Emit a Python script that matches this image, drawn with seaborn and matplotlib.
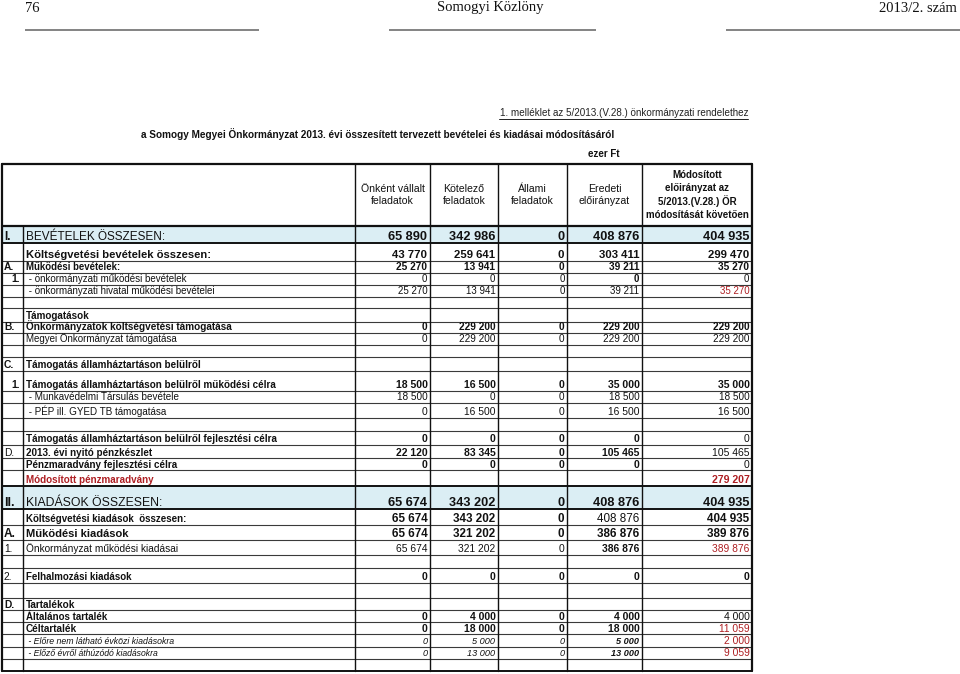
import matplotlib
matplotlib.use("Agg")
import matplotlib.pyplot as plt
import seaborn as sns

# ---------------- data ----------------
col_headers = ["Önként vállalt\nfeladatok", "Kötelező\nfeladatok", "Állami\nfeladatok",
               "Eredeti\nelőirányzat",
               "Módosított\nelőirányzat az\n5/2013.(V.28.) ÖR\nmódosítását követően"]

codes = ["I.", "", "A.", "1.", "", "", "", "B.", "", "", "C.", "1.", "", "", "", "",
         "D.", "", "", "II.", "", "A.", "1.", "", "2.", "", "D.", "", "", "", "", ""]

labels = ["BEVÉTELEK ÖSSZESEN:",
          "Költségvetési bevételek összesen:",
          "Működési bevételek:",
          " - önkormányzati működési bevételek",
          " - önkormányzati hivatal működési bevételei",
          "",
          "Támogatások",
          "Önkormányzatok költségvetési támogatása",
          "Megyei Önkormányzat támogatása",
          "",
          "Támogatás államháztartáson belülről",
          "Támogatás államháztartáson belülről működési célra",
          " - Munkavédelmi Társulás bevétele",
          " - PÉP ill. GYED TB támogatása",
          "",
          "Támogatás államháztartáson belülről fejlesztési célra",
          "2013. évi nyitó pénzkészlet",
          "Pénzmaradvány fejlesztési célra",
          "Módosított pénzmaradvány",
          "KIADÁSOK ÖSSZESEN:",
          "Költségvetési kiadások  összesen:",
          "Működési kiadások",
          "Önkormányzat működési kiadásai",
          "",
          "Felhalmozási kiadások",
          "",
          "Tartalékok",
          "Általános tartalék",
          "Céltartalék",
          " - Előre nem látható évközi kiadásokra",
          " - Előző évről áthúzódó kiadásokra",
          ""]

N = None
onkent = [65890, 43770, 25270, 0, 25270, N, N, 0, 0, N, N, 18500, 18500, 0, N, 0,
          22120, 0, N, 65674, 65674, 65674, 65674, N, 0, N, N, 0, 0, 0, 0, N]
kotelezo = [342986, 259641, 13941, 0, 13941, N, N, 229200, 229200, N, N, 16500, 0, 16500, N, 0,
            83345, 0, N, 343202, 343202, 321202, 321202, N, 0, N, N, 4000, 18000, 5000, 13000, N]
allami = [0, 0, 0, 0, 0, N, N, 0, 0, N, N, 0, 0, 0, N, 0,
          0, 0, N, 0, 0, 0, 0, N, 0, N, N, 0, 0, 0, 0, N]
eredeti = [408876, 303411, 39211, 0, 39211, N, N, 229200, 229200, N, N, 35000, 18500, 16500, N, 0,
           105465, 0, N, 408876, 408876, 386876, 386876, N, 0, N, N, 4000, 18000, 5000, 13000, N]
modositott = [404935, 299470, 35270, 0, 35270, N, N, 229200, 229200, N, N, 35000, 18500, 16500, N, 0,
              105465, 0, 279207, 404935, 404935, 389876, 389876, N, 0, N, N, 4000, 11059, 2000, 9059, N]

# ---------------- layout / styles ----------------
row_heights = [17, 18, 12, 12, 12, 11, 14, 11, 12, 12, 14, 20, 12, 15, 13, 14,
               13, 12, 16, 23, 16, 15, 15, 13, 15, 15, 12, 12, 12, 13, 12, 12]
# label: (size, bold, italic, red)
label_style = [(8.5, False, False, False), (8.1, True, False, False), (6.9, True, False, False),
               (7.0, False, False, False), (7.0, False, False, False), (7, False, False, False),
               (7.1, True, False, False), (7.2, True, False, False), (7.0, False, False, False),
               (7, False, False, False), (7.1, True, False, False), (7.1, True, False, False),
               (7.1, False, False, False), (7.15, False, False, False), (7, False, False, False),
               (7.1, True, False, False), (7.1, True, False, False), (7.1, True, False, False),
               (7.1, True, False, True), (8.8, False, False, False), (7.0, True, False, False),
               (8.0, True, False, False), (7.3, False, False, False), (7, False, False, False),
               (7.0, True, False, False), (7, False, False, False), (7.2, True, False, False),
               (7.0, True, False, False), (7.2, True, False, False), (6.35, False, True, False),
               (6.2, False, True, False), (7, False, False, False)]
# numbers: (size, bold, italic)
num_style = [(9.2, True, False), (8.2, True, False), (7.3, True, False), (7.0, False, False),
             (7.0, False, False), (7, False, False), (7, False, False), (7.3, True, False),
             (7.2, False, False), (7, False, False), (7, False, False), (7.6, True, False),
             (7.2, False, False), (7.4, False, False), (7, False, False), (7.5, True, False),
             (7.5, True, False), (7.5, True, False), (7.6, True, False), (9.2, True, False),
             (8.4, True, False), (8.4, True, False), (7.4, False, False), (7, False, False),
             (7.5, True, False), (7, False, False), (7, False, False), (7.5, True, False),
             (7.5, True, False), (6.6, False, True), (6.6, False, True), (7, False, False)]
eredeti_bold = {3, 22, 29, 30}
eredeti_normal = {20}
mod_normal = {15, 16, 17, 27, 28, 29, 30}
mod_red = {4, 18, 22, 28, 29, 30}
mod_bold_red = {18}
code_right = {3, 11}
code_bold = {0, 2, 3, 7, 10, 11, 19, 21, 26}
code_size = {0: 8.6, 19: 9.0, 21: 8.6}
blue_rows = {0, 19}

RED = "#ae1f23"
BLUE = "#dbeef4"
INK = "#111111"

# ---------------- fonts ----------------
sns.set_theme(style="white")
SANS = "Liberation Sans"
SERIF = "Liberation Serif"
plt.rcParams["font.family"] = [SANS, "DejaVu Sans"]

fig = plt.figure(figsize=(9.6, 6.74), dpi=100)
ax = fig.add_axes([0, 0, 1, 1])
ax.set_xlim(0, 960)
ax.set_ylim(674, 0)
ax.axis("off")

# ---------------- page header ----------------
ax.text(25, 8, "76", family=SERIF, fontsize=10.5, va="center", ha="left", color=INK)
ax.text(490, 8, "Somogyi Közlöny", family=SERIF, fontsize=10.5, va="center", ha="center", color=INK)
ax.text(957, 8, "2013/2. szám", family=SERIF, fontsize=10.5, va="center", ha="right", color=INK)
for x0, x1 in [(25, 259), (389, 596), (726, 960)]:
    ax.plot([x0, x1], [30, 30], color="#7a7a7a", lw=1.3, solid_capstyle="butt")

ax.text(748, 116, "1. melléklet az 5/2013.(V.28.) önkormányzati rendelethez",
        fontsize=7.15, ha="right", va="baseline", color="#222")
ax.plot([499, 748], [118.5, 118.5], color="#222", lw=0.7)
ax.text(378, 138, "a Somogy Megyei Önkormányzat 2013. évi összesített tervezett bevételei és kiadásai módosításáról",
        fontsize=7.2, fontweight="bold", ha="center", va="baseline", color=INK)
ax.text(604, 157, "ezer Ft", fontsize=7.0, fontweight="bold", ha="center", va="baseline", color=INK)

# ---------------- table geometry ----------------
col_edges = [355, 430, 498, 567, 642, 752]
LEFT, CODE_SEP = 2, 23
HEAD_TOP, HEAD_BOT = 164, 226

tops = [HEAD_BOT]
for h in row_heights:
    tops.append(tops[-1] + h)
BOTTOM = tops[-1]

for i in blue_rows:
    ax.fill_between([LEFT, col_edges[-1]], tops[i], tops[i + 1], color=BLUE, lw=0, zorder=0)

for j, txt in enumerate(col_headers):
    cx = (col_edges[j] + col_edges[j + 1]) / 2
    ax.text(cx, 195, txt, fontsize=7.0 if j == 4 else 7.6, ha="center", va="center",
            fontweight="bold" if j == 4 else "normal", linespacing=1.3 if j == 4 else 1.25,
            color=INK)

ax.plot([LEFT, col_edges[-1]], [HEAD_TOP, HEAD_TOP], color=INK, lw=1.6)
ax.plot([LEFT, col_edges[-1]], [HEAD_BOT, HEAD_BOT], color=INK, lw=1.6)
for k, y in enumerate(tops[1:]):
    thick = (k in blue_rows) or (k + 1 in blue_rows) or k == len(row_heights) - 1
    ax.plot([LEFT, col_edges[-1]], [y, y], color=INK if thick else "#3a3a3a",
            lw=1.4 if thick else 0.8)

ax.plot([LEFT, LEFT], [HEAD_TOP, BOTTOM], color=INK, lw=1.6)
ax.plot([CODE_SEP, CODE_SEP], [HEAD_BOT, BOTTOM], color=INK, lw=1.0)
for k, x in enumerate(col_edges):
    ax.plot([x, x], [HEAD_TOP, BOTTOM], color=INK, lw=1.6 if k == len(col_edges) - 1 else 1.0)

# ---------------- rows ----------------
def fmt(v):
    return f"{v:,}".replace(",", " ")

columns = [onkent, kotelezo, allami, eredeti, modositott]
for i in range(len(labels)):
    base = tops[i + 1] - (3 if row_heights[i] >= 14 else 2.5)
    if codes[i]:
        cs = code_size.get(i, 7.4)
        wt = "bold" if i in code_bold else "normal"
        if i in code_right:
            ax.text(20, base, codes[i], fontsize=cs, ha="right", va="baseline", fontweight=wt, color=INK)
        else:
            ax.text(4, base, codes[i], fontsize=cs, ha="left", va="baseline", fontweight=wt, color=INK)
    if labels[i]:
        s, b, it, red = label_style[i]
        ax.text(26, base, labels[i], fontsize=s, ha="left", va="baseline",
                fontweight="bold" if b else "normal", fontstyle="italic" if it else "normal",
                color=RED if red else INK)
    ns, nb, nit = num_style[i]
    for j, col in enumerate(columns):
        v = col[i]
        if v is None:
            continue
        bold, ital, color = nb, nit, INK
        if j == 3 and i in eredeti_bold:
            bold = True
        if j == 3 and i in eredeti_normal:
            bold = False
        if j == 4:
            if i in mod_normal:
                bold, ital = False, False
            if i in mod_red:
                color = RED
            if i in mod_bold_red:
                bold = True
        size = ns
        if j == 4 and i in {28, 29, 30}:
            size = 7.4
        ax.text(col_edges[j + 1] - 2.5, base, fmt(v), fontsize=size,
                ha="right", va="baseline", fontweight="bold" if bold else "normal",
                fontstyle="italic" if ital else "normal", color=color)

fig.savefig("out.png", dpi=100, facecolor="white")
